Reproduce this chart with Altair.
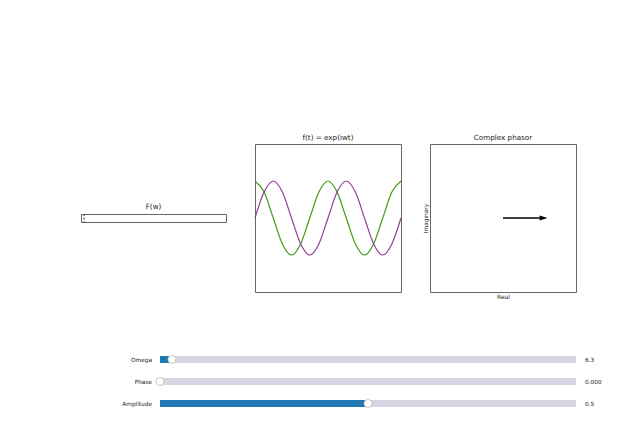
import altair as alt
import pandas as pd

# slider panel under the plots
slider_names = ["Omega", "Phase", "Amplitude"]
slider_min = [0.0, 0.0, 0.0]
slider_max = [220.0, 6.28, 1.0]
slider_value = [6.3, 0.0, 0.5]
slider_text = ["6.3", "0.000", "0.5"]

# F(w): a single spike at omega
spike_w = [6.3]

t_vals = [0.0, 0.125, 0.25, 0.375, 0.5, 0.625, 0.75, 0.875, 1.0,
          1.125, 1.25, 1.375, 1.5, 1.625, 1.75, 1.875, 2.0]
re_vals = [0.5, 0.35, 0.0, -0.35, -0.5, -0.35, 0.0, 0.35, 0.5,
           0.35, 0.0, -0.35, -0.5, -0.35, 0.0, 0.35, 0.5]
im_vals = [0.0, 0.35, 0.5, 0.35, 0.0, -0.35, -0.5, -0.35, 0.0,
           0.35, 0.5, 0.35, 0.0, -0.35, -0.5, -0.35, 0.0]

# phasor tip
phasor_re = [0.5]
phasor_im = [0.0]

FONT = "DejaVu Sans"
FRAME = "#66665a"
TXT = "#222222"
GREEN = "#3f9a14"
PURPLE = "#983b96"
BLUE = "#1f77b4"
TRACK = "#d6d6e2"

frame = alt.ViewBackground(stroke=FRAME, strokeWidth=1, fill=None)
noframe = alt.ViewBackground(stroke=None, fill=None)


def ttl(text):
    return alt.TitleParams(text, fontSize=7.2, fontWeight="normal", color=TXT,
                           font=FONT, offset=3)


# --- F(w) strip ---
fw = alt.Chart(pd.DataFrame({"w": spike_w})).mark_rule(
    color="#2233a0", strokeDash=[2, 1.5], strokeWidth=1
).encode(
    x=alt.X("w:Q", scale=alt.Scale(domain=[0, 300]), axis=None)
).properties(width=145, height=8, title=ttl("F(w)"), view=frame)

# --- f(t) ---
ft_df = pd.DataFrame({
    "t": t_vals * 2,
    "v": re_vals + im_vals,
    "part": ["Re"] * len(t_vals) + ["Im"] * len(t_vals),
})
ft = alt.Chart(ft_df).mark_line(strokeWidth=1.2, interpolate="monotone").encode(
    x=alt.X("t:Q", scale=alt.Scale(domain=[0, 2], nice=False), axis=None),
    y=alt.Y("v:Q", scale=alt.Scale(domain=[-1, 1], nice=False), axis=None),
    color=alt.Color("part:N", scale=alt.Scale(domain=["Re", "Im"], range=[GREEN, PURPLE]),
                    legend=None),
    detail="part:N",
).properties(width=146, height=148, title=ttl("f(t) = exp(iwt)"), view=frame)

# --- complex phasor ---
ph_df = pd.DataFrame({"re": phasor_re, "im": phasor_im, "re0": [0.0] * len(phasor_re)})
px = alt.X("re:Q", scale=alt.Scale(domain=[-1, 1], nice=False),
           axis=alt.Axis(title="Real", labels=False, ticks=False, domain=False, grid=False,
                         titleFontSize=6, titleFont=FONT, titleFontWeight="normal",
                         titleColor=TXT, titlePadding=1))
py = alt.Y("im:Q", scale=alt.Scale(domain=[-1, 1], nice=False),
           axis=alt.Axis(title="Imaginary", labels=False, ticks=False, domain=False, grid=False,
                         titleFontSize=5.8, titleFont=FONT, titleFontWeight="normal",
                         titleColor=TXT, titlePadding=2))
shaft = alt.Chart(ph_df).mark_rule(color="black", strokeWidth=1.3).encode(
    x=alt.X("re0:Q", scale=alt.Scale(domain=[-1, 1], nice=False),
            axis=alt.Axis(title="Real", labels=False, ticks=False, domain=False, grid=False,
                          titleFontSize=6, titleFont=FONT, titleFontWeight="normal",
                          titleColor=TXT, titlePadding=1)),
    x2="re:Q",
    y=py,
)
head = alt.Chart(ph_df).mark_point(
    shape="M0,-0.6L2,0L0,0.6Z", filled=True, color="black", opacity=1, size=64
).encode(x=px, y=py)
phasor = (shaft + head).properties(width=146, height=148,
                                   title=ttl("Complex phasor"), view=frame)

top_row = alt.hconcat(fw, ft, phasor, spacing=29, bounds="flush", center=True)


# --- sliders ---
def slider(i):
    d = pd.DataFrame({
        "name": [slider_names[i]], "lo": [slider_min[i]], "hi": [slider_max[i]],
        "val": [slider_value[i]], "txt": [slider_text[i]],
    })
    sc = alt.Scale(domain=[slider_min[i], slider_max[i]], nice=False, zero=False)
    base = alt.Chart(d)
    track = base.mark_rect(color=TRACK).encode(x=alt.X("lo:Q", scale=sc, axis=None), x2="hi:Q")
    fill = base.mark_rect(color=BLUE).encode(x=alt.X("lo:Q", scale=sc, axis=None), x2="val:Q")
    knob = base.mark_point(filled=True, fill="white", stroke="#b8b8b8", strokeWidth=0.8,
                           opacity=1, size=64).encode(x=alt.X("val:Q", scale=sc, axis=None))
    lab = base.mark_text(align="right", dx=-8, fontSize=5.8, font=FONT, color=TXT).encode(
        x=alt.X("lo:Q", scale=sc, axis=None), text="name:N")
    vtx = base.mark_text(align="left", dx=9, fontSize=5.8, font=FONT, color=TXT).encode(
        x=alt.X("hi:Q", scale=sc, axis=None), text="txt:N")
    return (track + fill + knob + lab + vtx).properties(width=416, height=7, view=noframe)


sliders = alt.vconcat(*[slider(i) for i in range(3)], spacing=15, bounds="flush")

spacer = alt.Chart(pd.DataFrame({"s": [0]})).mark_point(opacity=0, size=0).encode(
    x=alt.X("s:Q", axis=None), y=alt.Y("s:Q", axis=None)
).properties(width=1, height=1, view=noframe)

bottom_row = alt.hconcat(spacer, sliders, spacing=78, bounds="flush")

chart = alt.vconcat(top_row, bottom_row, spacing=53).properties(
    padding={"left": 72, "top": 125, "right": 5, "bottom": 5},
    background="white",
).configure_view(stroke=None).configure(font=FONT)

chart.save("out.html", embed_options={"renderer": "svg", "actions": False})
